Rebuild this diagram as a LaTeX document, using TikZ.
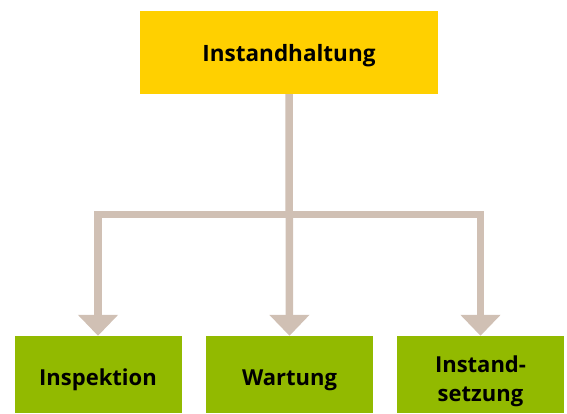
\documentclass[tikz,border=0pt]{standalone}
\usepackage{fontspec}
\setmainfont{Open Sans}
\usetikzlibrary{arrows.meta}
\definecolor{topyellow}{RGB}{255,208,0}
\definecolor{boxgreen}{RGB}{146,186,0}
\definecolor{conncol}{RGB}{208,192,180}
\tikzset{
  topbox/.style={fill=topyellow, minimum width=298pt, minimum height=83pt, inner sep=0pt, text height=19pt, text depth=0pt, font=\fontsize{22.5}{27}\selectfont\bfseries},
  leafbox/.style={fill=boxgreen, minimum width=167pt, minimum height=77pt, inner sep=0pt, align=center, font=\fontsize{22}{29}\selectfont\bfseries},
  oneline/.style={text height=22.4pt, text depth=0pt},
  twoline/.style={text height=53pt, text depth=0pt},
  conn/.style={draw=conncol, line width=7.5pt, line join=miter, -{Triangle[width=39pt,length=21pt]}},
}
\begin{document}
\begin{tikzpicture}[x=1pt,y=-1pt]
\useasboundingbox (0,0) rectangle (567,414);
\node[topbox] (T) at (289,52.5) {Instandhaltung};
\node[leafbox,oneline] (A) at (98,374.5) {Inspektion};
\node[leafbox,oneline] (B) at (289.5,374.5) {Wartung};
\node[leafbox,twoline] (C) at (480.5,374.5) {Instand-\\setzung};
\coordinate (bar) at (289,214.5);
\draw[conn] (T.south) -- (B.north);
\draw[conn] (bar) -| (A.north);
\draw[conn] (bar) -| (C.north);
\end{tikzpicture}
\end{document}
